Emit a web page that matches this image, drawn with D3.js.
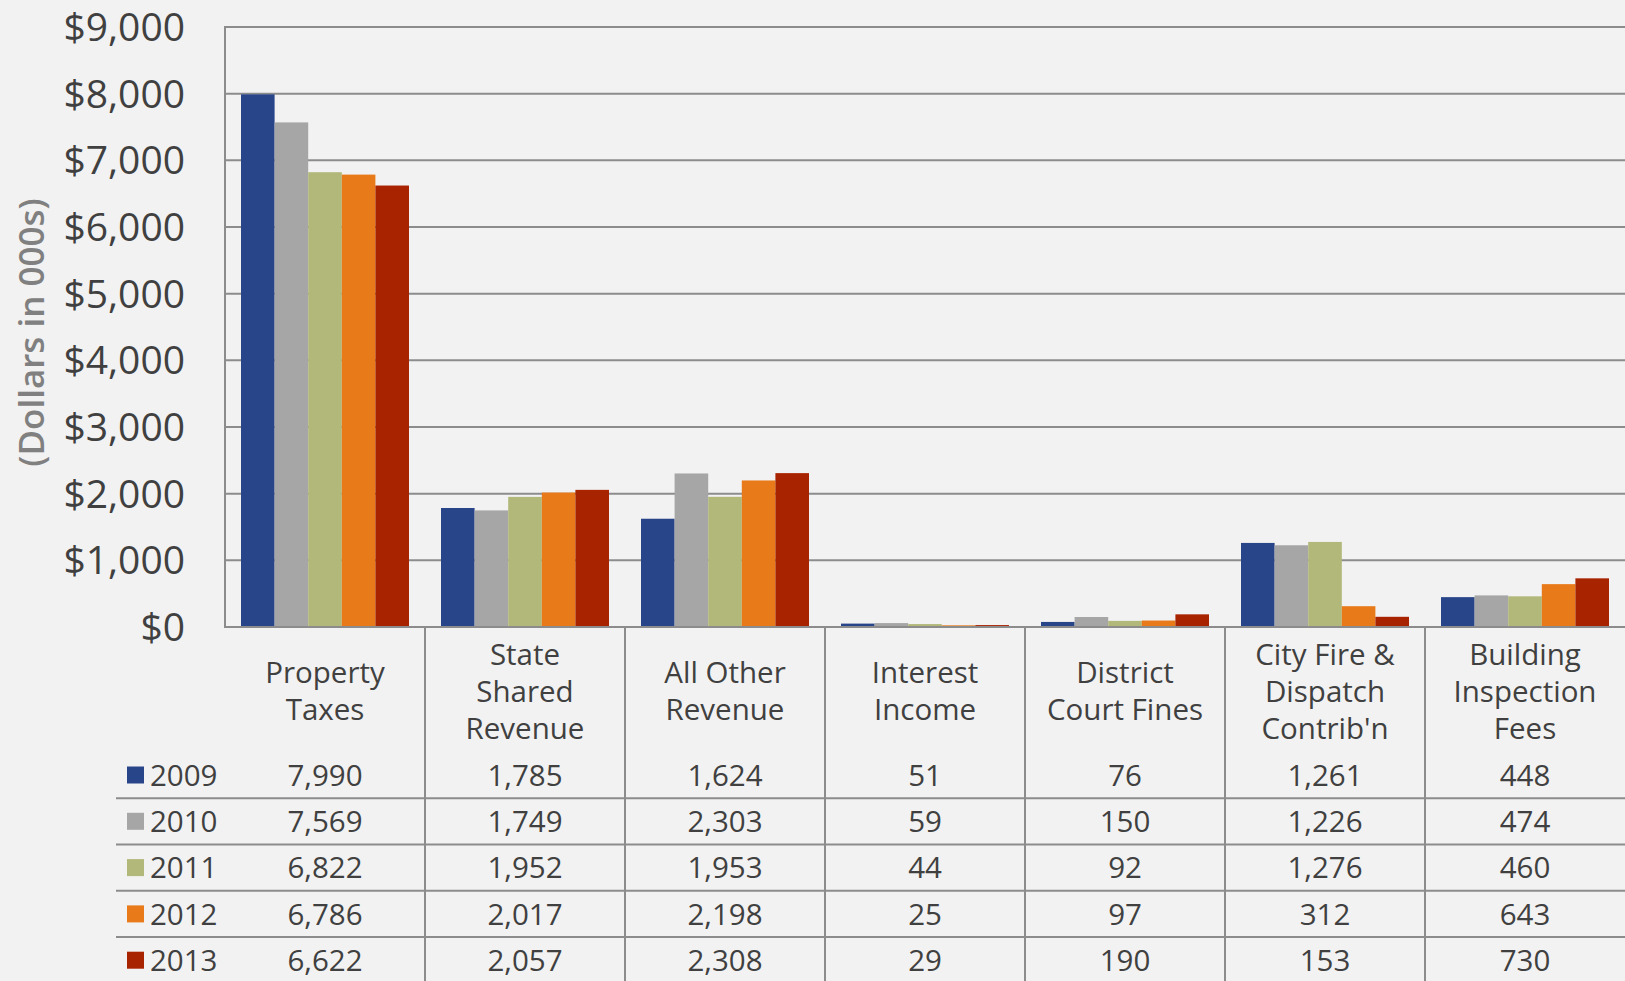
<!DOCTYPE html>
<html>
<head>
<meta charset="utf-8">
<script src="https://cdn.jsdelivr.net/npm/d3@7"></script>
<style>
  html, body { margin: 0; padding: 0; background: #f2f2f2; }
  svg { display: block; }
  text { font-family: "Open Sans", "Noto Sans", sans-serif; }
</style>
</head>
<body>
<svg id="chart" width="1625" height="981"></svg>
<script>
// ---- Data ----
const categories = [
  ["Property", "Taxes"],
  ["State", "Shared", "Revenue"],
  ["All Other", "Revenue"],
  ["Interest", "Income"],
  ["District", "Court Fines"],
  ["City Fire &", "Dispatch", "Contrib'n"],
  ["Building", "Inspection", "Fees"]
];
const years = ["2009", "2010", "2011", "2012", "2013"];
const values2009 = [7990, 1785, 1624, 51, 76, 1261, 448];
const values2010 = [7569, 1749, 2303, 59, 150, 1226, 474];
const values2011 = [6822, 1952, 1953, 44, 92, 1276, 460];
const values2012 = [6786, 2017, 2198, 25, 97, 312, 643];
const values2013 = [6622, 2057, 2308, 29, 190, 153, 730];
const yTicks = [0, 1000, 2000, 3000, 4000, 5000, 6000, 7000, 8000, 9000];
const colors = ["#29458a", "#a6a6a6", "#b2b77a", "#e87a1a", "#a82300"];
const yTitle = "(Dollars in 000s)";

const series = [values2009, values2010, values2011, values2012, values2013];

// ---- Layout ----
const W = 1625, H = 981;
const plotLeft = 225, plotRight = 1625, plotTop = 27, plotBottom = 627;
const gridColor = "#8c8c8c";
const textColor = "#404040";

const svg = d3.select("#chart");
svg.append("rect").attr("width", W).attr("height", H).attr("fill", "#f2f2f2");

const catIdx = categories.map((d, i) => i);
const x0 = d3.scaleBand().domain(catIdx).range([plotLeft, plotRight]).padding(0);
const x1 = d3.scaleBand().domain(years).range([16, x0.bandwidth() - 16]).padding(0);
const y = d3.scaleLinear().domain([0, 9000]).range([plotBottom, plotTop]);

// gridlines
svg.append("g").selectAll("line").data(yTicks).join("line")
  .attr("x1", plotLeft).attr("x2", plotRight)
  .attr("y1", d => y(d)).attr("y2", d => y(d))
  .attr("stroke", gridColor).attr("stroke-width", 2);

// y axis tick labels
const fmtDollar = d3.format("$,");
svg.append("g").selectAll("text").data(yTicks).join("text")
  .attr("x", 185).attr("y", d => y(d)).attr("dy", "0.36em")
  .attr("text-anchor", "end")
  .attr("font-size", 39).attr("fill", textColor)
  .text(d => fmtDollar(d));

// y title
svg.append("text")
  .attr("transform", `translate(44, ${(190 + 475) / 2}) rotate(-90)`)
  .attr("text-anchor", "middle")
  .attr("font-size", 35).attr("font-weight", 600).attr("fill", "#808080")
  .text(yTitle);

// bars
const groups = svg.append("g").selectAll("g").data(catIdx).join("g")
  .attr("transform", i => `translate(${x0(i)},0)`);
groups.selectAll("rect").data(i => years.map((yr, k) => ({ yr, k, v: series[k][i] }))).join("rect")
  .attr("x", d => x1(d.yr))
  .attr("width", x1.bandwidth())
  .attr("y", d => y(d.v))
  .attr("height", d => y(0) - y(d.v))
  .attr("fill", d => colors[d.k]);

// axes lines
svg.append("line").attr("x1", plotLeft).attr("x2", plotLeft)
  .attr("y1", plotTop - 1).attr("y2", plotBottom + 1)
  .attr("stroke", gridColor).attr("stroke-width", 2);
svg.append("line").attr("x1", plotLeft).attr("x2", plotRight)
  .attr("y1", plotBottom).attr("y2", plotBottom)
  .attr("stroke", gridColor).attr("stroke-width", 2);

// ---- Data table ----
const rowH = 46.3;
const firstRowCenter = 775;
const rowCenter = k => firstRowCenter + k * rowH;

// vertical separators
svg.append("g").selectAll("line").data(catIdx.slice(1)).join("line")
  .attr("x1", i => x0(i)).attr("x2", i => x0(i))
  .attr("y1", plotBottom).attr("y2", H)
  .attr("stroke", gridColor).attr("stroke-width", 2);

// horizontal row lines
svg.append("g").selectAll("line").data(years.slice(1)).join("line")
  .attr("x1", 116).attr("x2", plotRight)
  .attr("y1", (d, k) => rowCenter(k) + rowH / 2).attr("y2", (d, k) => rowCenter(k) + rowH / 2)
  .attr("stroke", gridColor).attr("stroke-width", 2);

// headers
const headerCenter = 691, lineH = 37;
const hdr = svg.append("g").selectAll("text").data(catIdx).join("text")
  .attr("text-anchor", "middle").attr("font-size", 29.5).attr("fill", textColor);
hdr.each(function (i) {
  const lines = categories[i];
  const n = lines.length;
  d3.select(this).selectAll("tspan").data(lines).join("tspan")
    .attr("x", x0(i) + x0.bandwidth() / 2)
    .attr("y", (d, j) => headerCenter + (j - (n - 1) / 2) * lineH)
    .attr("dy", "0.36em")
    .text(d => d);
});

// legend keys + year labels
const legend = svg.append("g").selectAll("g").data(years).join("g");
legend.append("rect")
  .attr("x", 127).attr("y", (d, k) => rowCenter(k) - 8.5)
  .attr("width", 17).attr("height", 17)
  .attr("fill", (d, k) => colors[k]);
legend.append("text")
  .attr("x", 150).attr("y", (d, k) => rowCenter(k)).attr("dy", "0.36em")
  .attr("font-size", 29.5).attr("fill", textColor)
  .text(d => d);

// values
const fmt = d3.format(",");
years.forEach((yr, k) => {
  svg.append("g").selectAll("text").data(catIdx).join("text")
    .attr("x", i => x0(i) + x0.bandwidth() / 2)
    .attr("y", rowCenter(k)).attr("dy", "0.36em")
    .attr("text-anchor", "middle")
    .attr("font-size", 29.5).attr("fill", textColor)
    .text(i => fmt(series[k][i]));
});
</script>
</body>
</html>
